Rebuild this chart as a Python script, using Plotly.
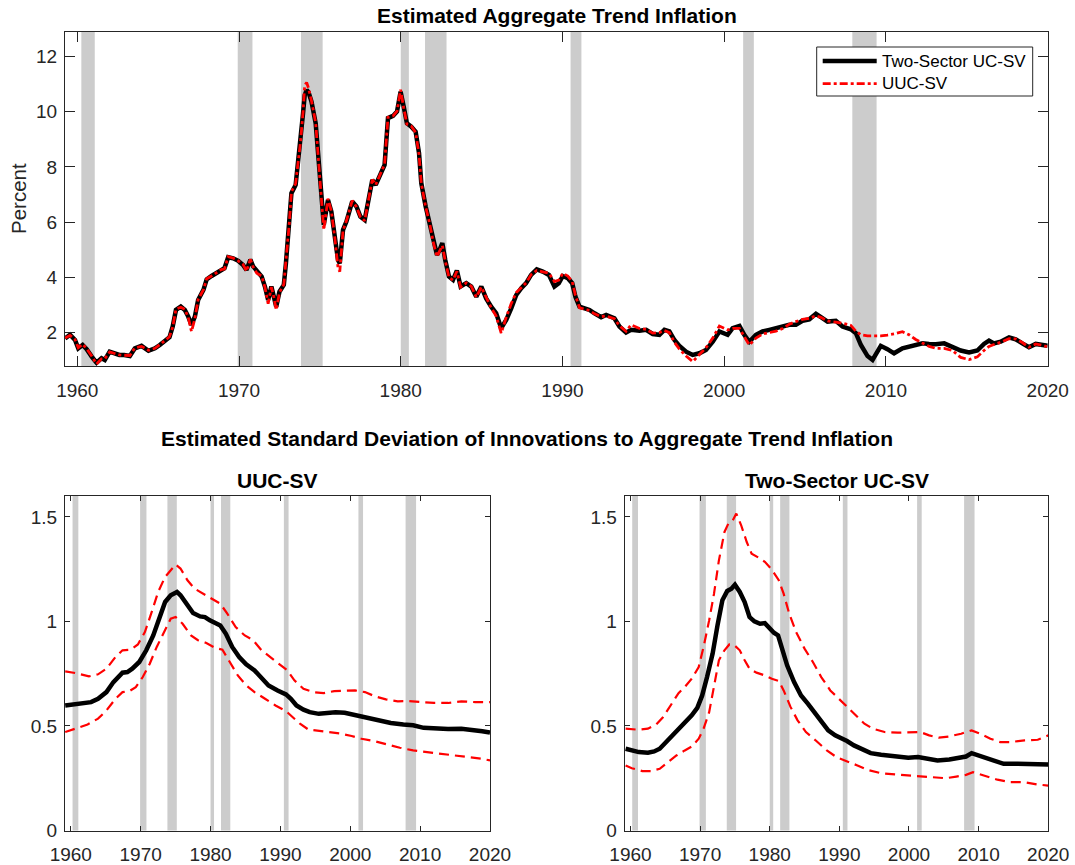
import plotly.graph_objects as go

# ---------------- data ----------------
top_years = [1959.25, 1959.55, 1959.86, 1960.06, 1960.33, 1960.58, 1960.89, 1961.19, 1961.50, 1961.70,
             1962.00, 1962.30, 1962.60, 1962.90, 1963.25, 1963.56, 1963.97, 1964.40, 1964.80, 1965.10,
             1965.40, 1965.70, 1965.90, 1966.10, 1966.40, 1966.65, 1966.86, 1967.06, 1967.27, 1967.47,
             1967.80, 1968.00, 1968.30, 1968.60, 1968.90, 1969.10, 1969.33, 1969.64, 1969.95, 1970.25,
             1970.46, 1970.70, 1970.87, 1971.10, 1971.40, 1971.60, 1971.80, 1972.00, 1972.15, 1972.30,
             1972.50, 1972.77, 1972.90, 1973.10, 1973.24, 1973.50, 1973.65, 1973.80, 1973.96, 1974.06,
             1974.18, 1974.30, 1974.48, 1974.74, 1974.95, 1975.10, 1975.24, 1975.50, 1975.71, 1975.92,
             1976.12, 1976.23, 1976.43, 1976.64, 1977.00, 1977.26, 1977.50, 1977.77, 1977.98, 1978.24,
             1978.45, 1978.70, 1979.00, 1979.21, 1979.52, 1979.77, 1979.99, 1980.18, 1980.38, 1980.65,
             1980.92, 1981.13, 1981.27, 1981.54, 1981.79, 1982.00, 1982.24, 1982.40, 1982.57, 1982.75,
             1982.98, 1983.23, 1983.47, 1983.70, 1984.05, 1984.36, 1984.67, 1984.98, 1985.28, 1985.59,
             1985.90, 1986.21, 1986.52, 1986.83, 1987.14, 1987.45, 1987.75, 1988.06, 1988.41, 1988.78,
             1989.16, 1989.50, 1989.77, 1990.02, 1990.33, 1990.60, 1990.80, 1991.05, 1991.36, 1991.67,
             1991.98, 1992.39, 1992.70, 1993.00, 1993.21, 1993.52, 1993.93, 1994.24, 1994.76, 1995.17,
             1995.58, 1995.99, 1996.30, 1996.61, 1996.92, 1997.23, 1997.64, 1998.05, 1998.46, 1998.87,
             1999.29, 1999.70, 2000.21, 2000.52, 2000.94, 2001.24, 2001.55, 2001.96, 2002.37, 2002.79,
             2003.20, 2003.61, 2004.02, 2004.43, 2004.84, 2005.26, 2005.67, 2005.98, 2006.39, 2006.90,
             2007.31, 2007.83, 2008.14, 2008.45, 2008.86, 2009.17, 2009.41, 2009.68, 2010.09, 2010.50,
             2011.02, 2011.43, 2011.84, 2012.26, 2012.67, 2013.08, 2013.60, 2014.11, 2014.62, 2015.14,
             2015.65, 2016.06, 2016.37, 2016.68, 2017.09, 2017.61, 2018.02, 2018.43, 2018.84, 2019.26, 2020.00]

trend_two_sector = [1.79, 1.92, 1.73, 1.43, 1.55, 1.40, 1.13, 0.91, 1.07, 1.01,
                    1.31, 1.25, 1.19, 1.19, 1.15, 1.43, 1.52, 1.34, 1.43, 1.55,
                    1.70, 1.83, 2.22, 2.82, 2.94, 2.82, 2.58, 2.28, 2.58, 3.18,
                    3.55, 3.93, 4.05, 4.17, 4.29, 4.33, 4.73, 4.69, 4.60, 4.45,
                    4.27, 4.64, 4.40, 4.21, 4.03, 3.67, 3.18, 3.67, 3.30, 2.94,
                    3.48, 3.73, 4.51, 5.84, 7.05, 7.35, 8.14, 8.86, 9.95, 10.60,
                    10.79, 10.70, 10.37, 9.58, 7.89, 6.69, 5.90, 6.81, 6.38, 5.48,
                    4.63, 4.51, 5.72, 6.02, 6.75, 6.57, 6.20, 6.08, 6.69, 7.53,
                    7.35, 7.65, 8.07, 9.77, 9.85, 10.01, 10.73, 10.19, 9.58, 9.46,
                    9.28, 8.50, 7.41, 6.57, 5.96, 5.36, 4.81, 5.00, 5.24, 4.63,
                    4.03, 3.91, 4.25, 3.67, 3.79, 3.67, 3.30, 3.67, 3.24, 2.94,
                    2.70, 2.16, 2.46, 2.88, 3.36, 3.61, 3.79, 4.09, 4.29, 4.21,
                    4.09, 3.67, 3.79, 4.05, 3.97, 3.79, 3.30, 2.94, 2.88, 2.82,
                    2.70, 2.56, 2.64, 2.58, 2.52, 2.22, 2.00, 2.10, 2.07, 2.10,
                    1.95, 1.92, 2.10, 2.04, 1.73, 1.52, 1.31, 1.19, 1.25, 1.37,
                    1.67, 2.04, 1.92, 2.16, 2.24, 1.92, 1.67, 1.92, 2.04, 2.10,
                    2.16, 2.24, 2.28, 2.28, 2.43, 2.48, 2.68, 2.56, 2.40, 2.43,
                    2.22, 2.12, 1.98, 1.55, 1.15, 1.01, 1.25, 1.52, 1.40, 1.25,
                    1.43, 1.49, 1.55, 1.61, 1.59, 1.58, 1.61, 1.49, 1.35, 1.28,
                    1.35, 1.59, 1.71, 1.61, 1.67, 1.83, 1.76, 1.61, 1.47, 1.59, 1.52]

trend_uucsv = [1.80, 1.90, 1.75, 1.45, 1.58, 1.42, 1.15, 0.86, 1.05, 1.05,
               1.30, 1.24, 1.19, 1.18, 1.17, 1.45, 1.50, 1.36, 1.43, 1.56,
               1.72, 1.85, 2.20, 2.85, 2.92, 2.84, 2.55, 2.04, 2.50, 3.20,
               3.55, 3.95, 4.05, 4.18, 4.28, 4.30, 4.75, 4.70, 4.60, 4.47,
               4.22, 4.66, 4.38, 4.15, 4.05, 3.65, 3.05, 3.65, 3.30, 2.82,
               3.45, 3.75, 4.55, 5.90, 7.10, 7.40, 8.15, 8.90, 10.00, 10.95,
               11.06, 10.85, 10.40, 9.60, 7.95, 6.65, 5.72, 6.85, 6.40, 5.45,
               4.35, 4.21, 5.70, 6.05, 6.78, 6.55, 6.20, 6.05, 6.72, 7.55,
               7.35, 7.68, 8.10, 9.80, 9.85, 10.02, 10.80, 10.15, 9.55, 9.48,
               9.25, 8.45, 7.40, 6.55, 5.95, 5.30, 4.75, 4.95, 5.15, 4.60,
               4.00, 3.90, 4.22, 3.65, 3.80, 3.68, 3.28, 3.65, 3.25, 2.90,
               2.60, 1.98, 2.55, 3.05, 3.45, 3.62, 3.80, 4.10, 4.25, 4.20,
               4.15, 3.85, 3.90, 4.15, 4.05, 3.85, 3.35, 2.90, 2.85, 2.80,
               2.68, 2.58, 2.60, 2.55, 2.50, 2.25, 2.05, 2.28, 2.15, 2.12,
               1.98, 2.00, 2.08, 2.00, 1.65, 1.40, 1.15, 0.95, 1.20, 1.45,
               1.80, 2.24, 2.10, 2.15, 2.15, 1.85, 1.55, 1.80, 1.95, 2.00,
               2.05, 2.15, 2.30, 2.40, 2.48, 2.52, 2.60, 2.55, 2.42, 2.38,
               2.34, 2.26, 2.05, 1.92, 1.88, 1.88, 1.88, 1.88, 1.91, 1.95,
               2.03, 1.92, 1.75, 1.61, 1.50, 1.43, 1.43, 1.35, 1.10, 1.02,
               1.12, 1.35, 1.50, 1.57, 1.65, 1.78, 1.77, 1.64, 1.47, 1.59, 1.49]

# UUC-SV standard deviation (median and bands)
uuc_med_years = [1959.2, 1961.2, 1962.9, 1963.9, 1965.1, 1966.1, 1967.4, 1968.1, 1968.8, 1969.8,
                 1970.8, 1971.8, 1972.8, 1973.5, 1974.3, 1975.2, 1975.7, 1976.7, 1977.5, 1978.5,
                 1979.2, 1979.9, 1980.7, 1981.4, 1982.2, 1983.1, 1984.1, 1985.1, 1986.3, 1987.3,
                 1988.3, 1989.6, 1990.8, 1991.5, 1992.3, 1993.3, 1994.2, 1995.5, 1996.7, 1997.9,
                 1999.2, 2000.4, 2001.6, 2002.9, 2004.1, 2005.8, 2007.6, 2009.0, 2010.5, 2012.0,
                 2014.0, 2015.9, 2017.4, 2018.9, 2020.0]
uuc_median = [0.598, 0.606, 0.614, 0.630, 0.662, 0.710, 0.755, 0.758, 0.774, 0.806,
              0.862, 0.933, 1.021, 1.093, 1.125, 1.141, 1.125, 1.077, 1.040, 1.024,
              1.021, 1.005, 0.989, 0.981, 0.941, 0.878, 0.830, 0.795, 0.766, 0.726,
              0.694, 0.670, 0.651, 0.630, 0.598, 0.578, 0.566, 0.558, 0.562, 0.566,
              0.563, 0.554, 0.546, 0.531, 0.523, 0.514, 0.507, 0.503, 0.491, 0.487,
              0.485, 0.487, 0.483, 0.475, 0.468]

uuc_up_years = [1959.2, 1960.7, 1962.6, 1963.9, 1965.1, 1966.4, 1967.4, 1968.6, 1969.6, 1970.6,
                1971.5, 1972.5, 1973.5, 1974.3, 1975.0, 1975.7, 1976.7, 1977.7, 1978.9, 1980.2,
                1981.4, 1982.4, 1983.6, 1984.9, 1986.1, 1987.3, 1988.8, 1990.0, 1991.0, 1992.0,
                1993.3, 1994.7, 1996.2, 1997.7, 1999.2, 2000.7, 2002.1, 2003.6, 2005.1, 2006.8,
                2008.3, 2010.0, 2012.0, 2014.0, 2015.9, 2017.9, 2020.0]
uuc_upper = [0.761, 0.753, 0.737, 0.747, 0.774, 0.830, 0.862, 0.865, 0.890, 0.949,
             1.037, 1.141, 1.213, 1.245, 1.272, 1.253, 1.197, 1.157, 1.133, 1.109,
             1.085, 1.037, 0.973, 0.933, 0.910, 0.862, 0.822, 0.790, 0.766, 0.718,
             0.678, 0.662, 0.657, 0.667, 0.670, 0.670, 0.662, 0.641, 0.627, 0.618,
             0.619, 0.614, 0.610, 0.610, 0.618, 0.614, 0.614]

uuc_lo_years = [1959.2, 1960.7, 1962.4, 1963.9, 1965.1, 1966.4, 1967.4, 1968.3, 1969.3, 1970.3,
                1971.3, 1972.3, 1973.3, 1974.3, 1975.0, 1976.0, 1977.2, 1978.2, 1979.4, 1980.7,
                1981.7, 1982.6, 1983.9, 1985.1, 1986.3, 1987.8, 1989.3, 1990.8, 1991.8, 1992.8,
                1994.0, 1995.7, 1997.2, 1998.7, 2000.2, 2001.6, 2003.4, 2005.1, 2007.1, 2009.0,
                2011.0, 2013.0, 2015.0, 2016.9, 2018.9, 2020.0]
uuc_lower = [0.471, 0.487, 0.507, 0.535, 0.574, 0.630, 0.662, 0.665, 0.686, 0.734,
             0.798, 0.878, 0.949, 1.013, 1.021, 0.989, 0.933, 0.910, 0.897, 0.873,
             0.865, 0.814, 0.742, 0.694, 0.662, 0.630, 0.598, 0.571, 0.543, 0.511,
             0.483, 0.476, 0.471, 0.463, 0.452, 0.439, 0.428, 0.412, 0.396, 0.383,
             0.375, 0.367, 0.359, 0.354, 0.343, 0.335]

# Two-Sector UC-SV standard deviation (median and bands)
ts_med_years = [1959.3, 1960.2, 1961.2, 1962.5, 1963.4, 1964.2, 1964.9, 1965.9, 1966.6, 1967.4,
                1968.1, 1968.8, 1969.6, 1970.3, 1971.0, 1971.8, 1972.5, 1973.2, 1973.9, 1974.5,
                1975.0, 1975.7, 1976.4, 1977.1, 1977.8, 1978.6, 1979.3, 1979.8, 1980.6, 1981.2,
                1981.8, 1982.5, 1983.5, 1984.5, 1985.5, 1986.4, 1987.4, 1988.4, 1989.4, 1990.4,
                1991.1, 1992.1, 1993.3, 1994.5, 1996.0, 1998.0, 1999.9, 2001.3, 2002.4, 2004.1,
                2005.8, 2007.5, 2008.2, 2009.0, 2009.7, 2010.7, 2012.2, 2013.6, 2015.6, 2017.5,
                2020.0]
ts_median = [0.391, 0.383, 0.375, 0.372, 0.378, 0.391, 0.415, 0.455, 0.479, 0.507,
             0.527, 0.551, 0.587, 0.646, 0.734, 0.846, 0.981, 1.101, 1.146, 1.157,
             1.176, 1.141, 1.093, 1.021, 1.000, 0.989, 0.992, 0.973, 0.946, 0.933,
             0.862, 0.790, 0.710, 0.646, 0.606, 0.566, 0.519, 0.479, 0.455, 0.442,
             0.428, 0.407, 0.386, 0.370, 0.362, 0.354, 0.348, 0.351, 0.343, 0.335,
             0.340, 0.351, 0.354, 0.370, 0.362, 0.348, 0.332, 0.319, 0.319, 0.319,
             0.316]

ts_up_years = [1959.3, 1960.2, 1961.2, 1962.5, 1963.7, 1964.7, 1965.9, 1966.9, 1967.8, 1968.8,
               1969.8, 1970.5, 1971.3, 1972.0, 1972.7, 1973.5, 1974.1, 1974.7, 1975.2, 1975.9,
               1976.7, 1977.4, 1978.4, 1979.3, 1980.3, 1981.3, 1982.0, 1982.8, 1983.8, 1985.0,
               1986.2, 1987.4, 1988.7, 1989.9, 1991.1, 1992.3, 1993.6, 1994.8, 1996.5, 1998.4,
               2000.4, 2001.6, 2002.9, 2004.3, 2005.8, 2007.5, 2009.0, 2010.2, 2011.7, 2013.1,
               2014.6, 2016.6, 2018.5, 2020.0]
ts_upper = [0.487, 0.483, 0.482, 0.487, 0.507, 0.543, 0.606, 0.657, 0.686, 0.726,
            0.782, 0.878, 1.005, 1.133, 1.292, 1.428, 1.471, 1.484, 1.516, 1.460,
            1.380, 1.324, 1.305, 1.285, 1.248, 1.197, 1.133, 1.037, 0.949, 0.870,
            0.806, 0.734, 0.670, 0.630, 0.590, 0.551, 0.511, 0.487, 0.471, 0.468,
            0.468, 0.471, 0.455, 0.444, 0.450, 0.463, 0.479, 0.463, 0.439, 0.423,
            0.423, 0.431, 0.434, 0.455]

ts_lo_years = [1959.3, 1960.2, 1961.7, 1962.9, 1964.2, 1965.4, 1966.6, 1967.8, 1968.8, 1969.8,
               1970.5, 1971.3, 1972.0, 1972.7, 1973.5, 1974.2, 1974.8, 1975.7, 1976.4, 1977.1,
               1978.1, 1979.3, 1980.3, 1981.3, 1982.0, 1983.0, 1984.0, 1985.2, 1986.7, 1988.2,
               1989.6, 1991.1, 1992.6, 1994.0, 1996.0, 1998.0, 1999.9, 2001.9, 2003.8, 2005.3,
               2006.8, 2008.2, 2009.2, 2010.7, 2012.7, 2014.6, 2016.6, 2018.5, 2020.0]
ts_lower = [0.311, 0.298, 0.284, 0.284, 0.295, 0.327, 0.359, 0.383, 0.402, 0.439,
            0.487, 0.566, 0.686, 0.814, 0.862, 0.890, 0.890, 0.862, 0.814, 0.774,
            0.755, 0.742, 0.726, 0.715, 0.670, 0.590, 0.527, 0.471, 0.428, 0.383,
            0.351, 0.332, 0.311, 0.290, 0.274, 0.268, 0.263, 0.260, 0.252, 0.250,
            0.258, 0.266, 0.279, 0.263, 0.243, 0.231, 0.231, 0.220, 0.215]

# NBER recession periods (start, end)
recession_start = [1960.25, 1969.92, 1973.83, 1980.00, 1981.50, 1990.50, 2001.17, 2007.92]
recession_end = [1961.08, 1970.83, 1975.17, 1980.50, 1982.83, 1991.17, 2001.83, 2009.42]

year_ticks = [1960, 1970, 1980, 1990, 2000, 2010, 2020]
top_yticks = [2, 4, 6, 8, 10, 12]
sd_yticks = [0, 0.5, 1, 1.5]
sd_yticklabels = ["0", "0.5", "1", "1.5"]

# ---------------- figure ----------------
W, H = 1075, 865
FONT = "Liberation Sans, Arial, Helvetica, sans-serif"
AX = "#262626"
BLACK_W = 4.5
RED_DASHDOT = "8px,3px,3px,3px"
RED_DASH = "10px,6px"

fig = go.Figure()

# top panel
fig.add_trace(go.Scatter(x=top_years, y=trend_two_sector, mode="lines",
                         line=dict(color="black", width=BLACK_W), xaxis="x", yaxis="y",
                         showlegend=False))
fig.add_trace(go.Scatter(x=top_years, y=trend_uucsv, mode="lines",
                         line=dict(color="#ff0000", width=2.8, dash=RED_DASHDOT),
                         xaxis="x", yaxis="y", showlegend=False))

# bottom-left: UUC-SV
fig.add_trace(go.Scatter(x=uuc_up_years, y=uuc_upper, mode="lines",
                         line=dict(color="#ff0000", width=2.2, dash=RED_DASH),
                         xaxis="x2", yaxis="y2", showlegend=False))
fig.add_trace(go.Scatter(x=uuc_lo_years, y=uuc_lower, mode="lines",
                         line=dict(color="#ff0000", width=2.2, dash=RED_DASH),
                         xaxis="x2", yaxis="y2", showlegend=False))
fig.add_trace(go.Scatter(x=uuc_med_years, y=uuc_median, mode="lines",
                         line=dict(color="black", width=BLACK_W), xaxis="x2", yaxis="y2",
                         showlegend=False))

# bottom-right: Two-Sector UC-SV
fig.add_trace(go.Scatter(x=ts_up_years, y=ts_upper, mode="lines",
                         line=dict(color="#ff0000", width=2.2, dash=RED_DASH),
                         xaxis="x3", yaxis="y3", showlegend=False))
fig.add_trace(go.Scatter(x=ts_lo_years, y=ts_lower, mode="lines",
                         line=dict(color="#ff0000", width=2.2, dash=RED_DASH),
                         xaxis="x3", yaxis="y3", showlegend=False))
fig.add_trace(go.Scatter(x=ts_med_years, y=ts_median, mode="lines",
                         line=dict(color="black", width=BLACK_W), xaxis="x3", yaxis="y3",
                         showlegend=False))

shapes = []
for xr, yr in [("x", "y domain"), ("x2", "y2 domain"), ("x3", "y3 domain")]:
    for s, e in zip(recession_start, recession_end):
        shapes.append(dict(type="rect", xref=xr, yref=yr, x0=s, x1=e, y0=0, y1=1,
                           fillcolor="#cccccc", line=dict(width=0), layer="below"))


def px(xp):
    return xp / W


def py(yp):
    return 1 - yp / H


# custom legend box
shapes.append(dict(type="rect", xref="paper", yref="paper",
                   x0=px(816.7), x1=px(1032.7), y0=py(96), y1=py(47),
                   fillcolor="white", line=dict(color=AX, width=1), layer="above"))
shapes.append(dict(type="line", xref="paper", yref="paper",
                   x0=px(822.7), x1=px(876.7), y0=py(61), y1=py(61),
                   line=dict(color="black", width=BLACK_W), layer="above"))
shapes.append(dict(type="line", xref="paper", yref="paper",
                   x0=px(822.7), x1=px(876.7), y0=py(83.7), y1=py(83.7),
                   line=dict(color="#ff0000", width=2.8, dash=RED_DASHDOT), layer="above"))

annotations = [
    dict(text="<b>Estimated Aggregate Trend Inflation</b>", x=px(556.5), y=py(16),
         xref="paper", yref="paper", xanchor="center", yanchor="middle", showarrow=False,
         font=dict(family=FONT, size=21, color="black")),
    dict(text="<b>Estimated Standard Deviation of Innovations to Aggregate Trend Inflation</b>",
         x=px(527), y=py(438.5), xref="paper", yref="paper", xanchor="center",
         yanchor="middle", showarrow=False, font=dict(family=FONT, size=21, color="black")),
    dict(text="<b>UUC-SV</b>", x=px(277.5), y=py(480.5), xref="paper", yref="paper",
         xanchor="center", yanchor="middle", showarrow=False,
         font=dict(family=FONT, size=21, color="black")),
    dict(text="<b>Two-Sector UC-SV</b>", x=px(836.5), y=py(480.5), xref="paper", yref="paper",
         xanchor="center", yanchor="middle", showarrow=False,
         font=dict(family=FONT, size=21, color="black")),
    dict(text="Percent", x=px(18), y=py(199), xref="paper", yref="paper", textangle=-90,
         xanchor="center", yanchor="middle", showarrow=False,
         font=dict(family=FONT, size=20.5, color=AX)),
    dict(text="Two-Sector UC-SV", x=px(879.5), y=py(61), xref="paper", yref="paper",
         xanchor="left", yanchor="middle", showarrow=False,
         font=dict(family=FONT, size=17, color="black")),
    dict(text="UUC-SV", x=px(879.5), y=py(83.7), xref="paper", yref="paper",
         xanchor="left", yanchor="middle", showarrow=False,
         font=dict(family=FONT, size=17, color="black")),
]


def xax(domain, rng, anchor, ticklen):
    return dict(domain=domain, range=rng, anchor=anchor, tickvals=year_ticks,
                ticktext=[str(v) for v in year_ticks], ticks="inside", ticklen=ticklen,
                tickwidth=1, tickcolor=AX, showline=True, linecolor=AX, linewidth=1,
                mirror="ticks", showgrid=False, zeroline=False, automargin=False,
                ticklabelstandoff=7,
                tickfont=dict(family=FONT, size=19, color=AX))


def yax(domain, rng, anchor, ticklen, tv, tt):
    return dict(domain=domain, range=rng, anchor=anchor, tickvals=tv, ticktext=tt,
                ticks="inside", ticklen=ticklen, tickwidth=1, tickcolor=AX, showline=True,
                linecolor=AX, linewidth=1, mirror="ticks", showgrid=False, zeroline=False,
                automargin=False, ticklabelstandoff=3,
                tickfont=dict(family=FONT, size=19, color=AX))


fig.update_layout(
    width=W, height=H, autosize=False,
    margin=dict(l=0, r=0, t=0, b=0, pad=0),
    paper_bgcolor="white", plot_bgcolor="white",
    showlegend=False,
    xaxis=xax([px(65), px(1047.7)], [1959.24, 2020], "y", 10),
    yaxis=yax([py(366), py(31.7)], [0.79, 12.9], "x", 10, top_yticks,
              [str(v) for v in top_yticks]),
    xaxis2=xax([px(65), px(490)], [1959.17, 2020], "y2", 5),
    yaxis2=yax([py(830.5), py(496)], [0, 1.6], "x2", 5, sd_yticks, sd_yticklabels),
    xaxis3=xax([px(624.7), px(1048.2)], [1959.17, 2020], "y3", 5),
    yaxis3=yax([py(830.5), py(496)], [0, 1.6], "x3", 5, sd_yticks, sd_yticklabels),
    shapes=shapes,
    annotations=annotations,
)

# remove the browser's default page margin so the figure sits at the window origin
fig.write_html("out.html",
               config={"displayModeBar": False},
               post_script="document.body.style.margin='0';document.body.style.overflow='hidden';")
